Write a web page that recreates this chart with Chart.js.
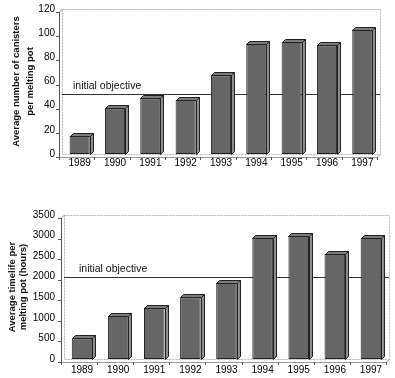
<!DOCTYPE html>
<html>
<head>
<meta charset="utf-8">
<script src="https://cdn.jsdelivr.net/npm/chart.js@4/dist/chart.umd.min.js"></script>
<style>
  html,body{margin:0;padding:0;background:#fff;}
  #wrap{position:relative;width:395px;height:378px;overflow:hidden;}
  .box{position:absolute;left:0;width:395px;}
</style>
</head>
<body>
<div id="wrap">
  <div class="box" style="top:0;height:186px;"><canvas id="c1" width="395" height="186"></canvas></div>
  <div class="box" style="top:190px;height:188px;"><canvas id="c2" width="395" height="188"></canvas></div>
</div>
<script>
// ---- data ----
const years = ['1989','1990','1991','1992','1993','1994','1995','1996','1997'];
const canisters = [15, 38, 46, 45, 65, 91, 93, 90, 103];
const canistersObjective = 50;
const canistersTicks = [0, 20, 40, 60, 80, 100, 120];
const timelife = [500, 1050, 1250, 1500, 1850, 2950, 3000, 2550, 2950];
const timelifeObjective = 2000;
const timelifeTicks = [0, 500, 1000, 1500, 2000, 2500, 3000, 3500];
const objectiveLabel = 'initial objective';
const title1 = ['Average number of canisters', 'per melting pot'];
const title2 = ['Average timelife per', 'melting pot (hours)'];

const FONT = 'Arial, "Liberation Sans", sans-serif';
const D = 3; // 3D depth

const frame3d = {
  id: 'frame3d',
  beforeDatasetsDraw(chart) {
    const {ctx, chartArea: a, scales: {y}} = chart;
    const o = chart.options.plugins.frame3d;
    ctx.save();
    ctx.lineWidth = 1;
    // back wall
    ctx.strokeStyle = '#b4b4b4';
    ctx.setLineDash([2, 1]);
    ctx.strokeRect(a.left + 0.5, a.top + 0.5, a.right - a.left, a.bottom - a.top);
    ctx.setLineDash([]);
    // side wall/floor edges
    ctx.strokeStyle = '#999';
    ctx.beginPath();
    ctx.moveTo(a.left - D + 0.5, a.top + D);
    ctx.lineTo(a.left + 0.5, a.top);
    ctx.moveTo(a.left - D + 0.5, a.bottom + D + 0.5);
    ctx.lineTo(a.right - D, a.bottom + D + 0.5);
    ctx.lineTo(a.right + 0.5, a.bottom + 0.5);
    ctx.stroke();
    // front y axis
    ctx.strokeStyle = '#555';
    ctx.beginPath();
    ctx.moveTo(a.left - D + 0.5, a.top + D);
    ctx.lineTo(a.left - D + 0.5, a.bottom + D + 0.5);
    ctx.stroke();
    // y ticks
    ctx.beginPath();
    y.ticks.forEach(t => {
      const py = Math.round(y.getPixelForValue(t.value) + D) + 0.5;
      ctx.moveTo(a.left - D - 3, py);
      ctx.lineTo(a.left - D + 0.5, py);
    });
    // x ticks on floor front edge
    for (let i = 0; i <= years.length; i++) {
      const px = Math.round(a.left + (a.right - a.left) * i / years.length - D) + 0.5;
      ctx.moveTo(px, a.bottom + D);
      ctx.lineTo(px, a.bottom + D + 3);
    }
    ctx.stroke();
    // objective line
    const oy = Math.round(y.getPixelForValue(o.objective)) + 0.5;
    ctx.strokeStyle = '#333';
    ctx.beginPath();
    ctx.moveTo(a.left, oy);
    ctx.lineTo(a.right, oy);
    ctx.stroke();
    ctx.fillStyle = '#111';
    ctx.font = '10.5px ' + FONT;
    ctx.textBaseline = 'bottom';
    ctx.textAlign = 'left';
    ctx.fillText(objectiveLabel, a.left + o.textDx, oy - 3);
    ctx.restore();
  },
  afterDatasetsDraw(chart) {
    const {ctx} = chart;
    const meta = chart.getDatasetMeta(0);
    ctx.save();
    ctx.lineWidth = 1;
    ctx.strokeStyle = '#222';
    meta.data.forEach(bar => {
      const p = bar.getProps(['x', 'y', 'base', 'width'], true);
      const l = Math.round(p.x - p.width / 2) + 0.5;
      const r = Math.round(p.x + p.width / 2) + 0.5;
      const t = Math.round(p.y) + 0.5;
      const b = Math.round(p.base) + 0.5;
      // top face
      ctx.fillStyle = '#7c7c7c';
      ctx.beginPath();
      ctx.moveTo(l, t); ctx.lineTo(l + D, t - D); ctx.lineTo(r + D, t - D); ctx.lineTo(r, t); ctx.closePath();
      ctx.fill(); ctx.stroke();
      // side face
      ctx.fillStyle = '#8e8e8e';
      ctx.beginPath();
      ctx.moveTo(r, t); ctx.lineTo(r + D, t - D); ctx.lineTo(r + D, b - D); ctx.lineTo(r, b); ctx.closePath();
      ctx.fill(); ctx.stroke();
    });
    ctx.restore();
  }
};

function makeChart(id, data, ticks, objective, title, pad) {
  return new Chart(document.getElementById(id), {
    type: 'bar',
    data: {
      labels: years,
      datasets: [{
        data: data,
        backgroundColor: '#666666',
        borderColor: '#222',
        borderWidth: 1,
        borderSkipped: false,
        barPercentage: 0.57,
        categoryPercentage: 1.0
      }]
    },
    plugins: [frame3d],
    options: {
      responsive: false,
      animation: false,
      events: [],
      layout: {padding: {left: 0, right: pad.right, top: pad.top, bottom: 0}},
      plugins: {
        legend: {display: false},
        tooltip: {enabled: false},
        frame3d: {objective: objective, textDx: pad.textDx}
      },
      scales: {
        x: {
          grid: {display: false, drawTicks: false},
          border: {display: false},
          ticks: {color: '#000', font: {family: FONT, size: 10}, padding: pad.xp, maxRotation: 0, autoSkip: false},
          afterFit: s => { s.height = pad.xh; s.paddingLeft = 0; s.paddingRight = 0; }
        },
        y: {
          min: ticks[0],
          max: ticks[ticks.length - 1],
          afterBuildTicks: s => { s.ticks = ticks.map(v => ({value: v})); },
          grid: {display: false, drawTicks: false},
          border: {display: false},
          ticks: {
            color: '#000', font: {family: FONT, size: 10}, padding: pad.yp,
            callback: v => String(v)
          },
          title: {
            display: true,
            text: title,
            color: '#111',
            font: {family: FONT, size: 9.5, weight: 'bold', lineHeight: pad.tlh},
            padding: {top: pad.tpad, bottom: 0}
          },
          afterFit: s => { s.width = pad.yw; s.paddingTop = 0; s.paddingBottom = 0; }
        }
      }
    }
  });
}

makeChart('c1', canisters, canistersTicks, canistersObjective, title1,
  {right: 15, top: 9, yw: 62, xh: 32, xp: 3, yp: 7, tlh: 1.42, tpad: 10, textDx: 11});
makeChart('c2', timelife, timelifeTicks, timelifeObjective, title2,
  {right: 6, top: 25, yw: 64, xh: 19, xp: 5, yp: 9, tlh: 1.08, tpad: 7.5, textDx: 15});
</script>
</body>
</html>
